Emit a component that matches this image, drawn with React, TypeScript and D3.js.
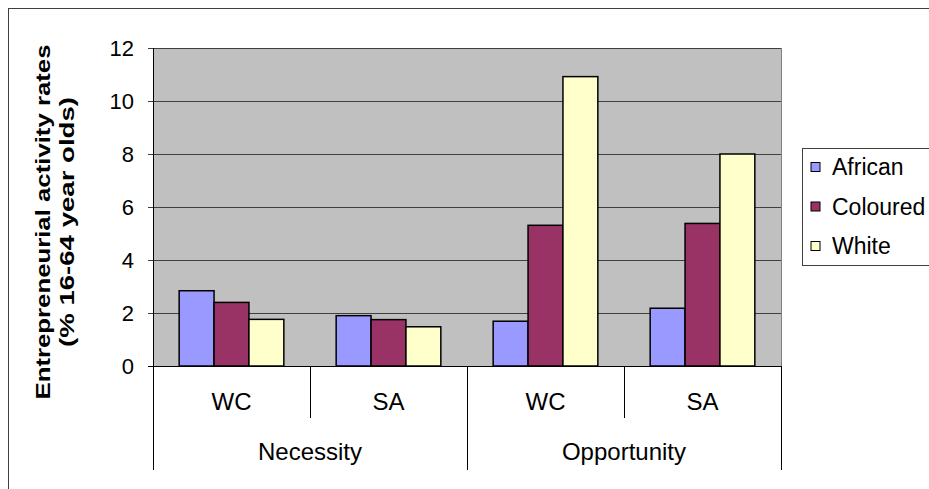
import React from "react";
import * as d3 from "d3";

const groups = ["Necessity", "Opportunity"];
const regions = ["WC", "SA"];
const seriesNames = ["African", "Coloured", "White"];
const african = [2.84, 1.9, 1.69, 2.18];
const coloured = [2.4, 1.75, 5.31, 5.38];
const white = [1.76, 1.48, 10.92, 8.0];
const yTicks = [0, 2, 4, 6, 8, 10, 12];
const colors = ["#9999FF", "#993366", "#FFFFCC"];

const W = 929;
const H = 489;
const plot = { left: 153, right: 781, top: 48, bottom: 366 };
const FONT = "'Liberation Sans', Arial, sans-serif";

export default function App() {
  const series = [african, coloured, white];
  const cats = groups.flatMap((g) => regions.map((r) => `${g}|${r}`));
  const x = d3.scaleBand<string>().domain(cats).range([plot.left, plot.right]).paddingInner(0).paddingOuter(0);
  const bw = x.bandwidth();
  const barW = bw / 4.5;
  const y = d3.scaleLinear().domain([0, 12]).range([plot.bottom, plot.top]);

  return (
    <svg width={W} height={H} style={{ position: "absolute", left: 0, top: 0, background: "#fff" }}>
      <rect x={8.5} y={8.5} width={W + 20} height={H + 20} fill="#fff" stroke="#404040" strokeWidth={1} />
      <rect x={plot.left} y={plot.top} width={plot.right - plot.left} height={plot.bottom - plot.top} fill="#C0C0C0" />
      {yTicks.map((t) => (
        <g key={t}>
          <line x1={plot.left - 5} x2={plot.right} y1={Math.round(y(t)) + 0.5} y2={Math.round(y(t)) + 0.5} stroke={t === 0 ? "#000" : "#404040"} strokeWidth={1} />
          <text x={134} y={y(t)} dy="0.35em" textAnchor="end" fontFamily={FONT} fontSize={22} fill="#000">{t}</text>
        </g>
      ))}
      <line x1={plot.right + 0.5} x2={plot.right + 0.5} y1={plot.top} y2={plot.bottom} stroke="#808080" />
      {cats.map((c, i) =>
        series.map((s, k) => {
          const x0 = (x(c) as number) + barW * 0.75 + k * barW;
          return (
            <rect key={`${c}-${k}`} x={x0} y={y(s[i])} width={barW} height={y(0) - y(s[i])} fill={colors[k]} stroke="#000" strokeWidth={1.5} />
          );
        })
      )}
      <line x1={plot.left + 0.5} x2={plot.left + 0.5} y1={plot.top} y2={470} stroke="#000" />
      {cats.map((c, i) => {
        const xe = (x(c) as number) + bw;
        const outer = i % 2 === 1;
        return <line key={`t${c}`} x1={Math.round(xe) + 0.5} x2={Math.round(xe) + 0.5} y1={plot.bottom} y2={outer ? 470 : 418} stroke="#000" />;
      })}
      {cats.map((c) => (
        <text key={`l${c}`} x={(x(c) as number) + bw / 2} y={402} dy="0.35em" textAnchor="middle" fontFamily={FONT} fontSize={24} fill="#000">
          {c.split("|")[1]}
        </text>
      ))}
      {groups.map((g) => {
        const x0 = x(`${g}|${regions[0]}`) as number;
        return (
          <text key={g} x={x0 + bw} y={452} dy="0.35em" textAnchor="middle" fontFamily={FONT} fontSize={24} fill="#000">
            {g}
          </text>
        );
      })}
      <text transform={`translate(43,222) rotate(-90)`} textAnchor="middle" fontFamily={FONT} fontSize={21} fontWeight="bold" dy="0.35em" textLength={355} lengthAdjust="spacingAndGlyphs">
        Entrepreneurial activity rates
      </text>
      <text transform={`translate(67,222) rotate(-90)`} textAnchor="middle" fontFamily={FONT} fontSize={21} fontWeight="bold" dy="0.35em" textLength={250} lengthAdjust="spacingAndGlyphs">
        (% 16-64 year olds)
      </text>
      <rect x={802.5} y={148.5} width={200} height={117} fill="#fff" stroke="#404040" />
      {seriesNames.map((n, k) => (
        <g key={n}>
          <rect x={811} y={167 + k * 39.5 - 4.5} width={9} height={9} fill={colors[k]} stroke="#000" strokeWidth={1} />
          <text x={832} y={167 + k * 39.5} dy="0.35em" fontFamily={FONT} fontSize={23} fill="#000">{n}</text>
        </g>
      ))}
    </svg>
  );
}
